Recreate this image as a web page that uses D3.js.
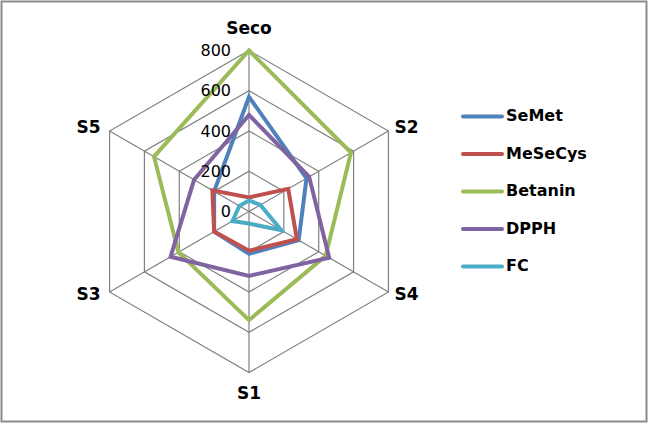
<!DOCTYPE html>
<html>
<head>
<meta charset="utf-8">
<script src="https://cdn.jsdelivr.net/npm/d3@7"></script>
<style>
  body { margin: 0; background: #fff; }
  svg { display: block; }
</style>
</head>
<body>
<div id="chart"></div>
<script>
'use strict';

var axisNames = ["Seco", "S2", "S4", "S1", "S3", "S5"];
var tickValues = [0, 200, 400, 600, 800];

var seriesNames = ["SeMet", "MeSeCys", "Betanin", "DPPH", "FC"];
var seMet = [570, 330, 285, 210, 200, 200];
var meSeCys = [70, 225, 275, 195, 200, 210];
var betanin = [800, 585, 440, 540, 405, 545];
var dpph = [480, 345, 460, 320, 450, 315];
var fc = [55, 65, 185, 60, 95, 55];

var width = 648, height = 423;
var cx = 249, cy = 211.5, radius = 161;

var colorScale = d3.scaleOrdinal()
  .domain(seriesNames)
  .range(["#4f81bd", "#c0504d", "#9bbb59", "#8064a2", "#4bacc6"]);

var rScale = d3.scaleLinear().domain([0, 800]).range([0, radius]);
var angleScale = d3.scalePoint().domain(axisNames).range([0, 2 * Math.PI * 5 / 6]);

var series = [seMet, meSeCys, betanin, dpph, fc].map(function(values, i) {
  return { name: seriesNames[i], values: values };
});

var svg = d3.select("#chart").append("svg")
  .attr("width", width)
  .attr("height", height);

svg.append("rect")
  .attr("x", 1.5).attr("y", 1.5)
  .attr("width", width - 3).attr("height", height - 3)
  .attr("fill", "#fff")
  .attr("stroke", "#8c8c8c")
  .attr("stroke-width", 2);

var g = svg.append("g").attr("transform", "translate(" + cx + "," + cy + ")");

function point(name, v) {
  var a = angleScale(name);
  return [Math.sin(a) * rScale(v), -Math.cos(a) * rScale(v)];
}

// grid rings
var ring = d3.line().curve(d3.curveLinearClosed);
g.selectAll(".ring")
  .data(tickValues.slice(1))
  .enter().append("path")
  .attr("class", "ring")
  .attr("d", function(t) {
    return ring(axisNames.map(function(n) { return point(n, t); }));
  })
  .attr("fill", "none")
  .attr("stroke", "#808080")
  .attr("stroke-width", 1.2);

// spokes
g.selectAll(".spoke")
  .data(axisNames)
  .enter().append("line")
  .attr("class", "spoke")
  .attr("x1", 0).attr("y1", 0)
  .attr("x2", function(n) { return point(n, 800)[0]; })
  .attr("y2", function(n) { return point(n, 800)[1]; })
  .attr("stroke", "#808080")
  .attr("stroke-width", 1.2);

// series
var radarLine = d3.lineRadial()
  .angle(function(d, i) { return angleScale(axisNames[i]); })
  .radius(function(d) { return rScale(d); })
  .curve(d3.curveLinearClosed);

g.selectAll(".series")
  .data(series)
  .enter().append("path")
  .attr("class", "series")
  .attr("d", function(d) { return radarLine(d.values); })
  .attr("fill", "none")
  .attr("stroke", function(d) { return colorScale(d.name); })
  .attr("stroke-width", 4)
  .attr("stroke-linejoin", "miter");

// tick labels
g.selectAll(".tick")
  .data(tickValues)
  .enter().append("text")
  .attr("class", "tick")
  .attr("x", -18)
  .attr("y", function(t) { return -rScale(t) + 1; })
  .attr("text-anchor", "end")
  .attr("dominant-baseline", "middle")
  .style("font-family", "DejaVu Sans")
  .style("font-size", "16px")
  .style("fill", "#000")
  .text(function(t) { return t; });

// axis labels
g.selectAll(".axisLabel")
  .data(axisNames)
  .enter().append("text")
  .attr("class", "axisLabel")
  .attr("x", function(n) {
    var p = point(n, 800);
    if (Math.abs(p[0]) < 1) return p[0];
    return p[0] > 0 ? p[0] + 6 : p[0] - 9;
  })
  .attr("y", function(n) {
    var p = point(n, 800);
    if (Math.abs(p[0]) < 1) return p[1] < 0 ? p[1] - 22 : p[1] + 21;
    return p[1] < 0 ? p[1] - 3 : p[1] + 3;
  })
  .attr("text-anchor", function(n) {
    var p = point(n, 800);
    if (Math.abs(p[0]) < 1) return "middle";
    return p[0] > 0 ? "start" : "end";
  })
  .attr("dominant-baseline", "middle")
  .style("font-family", "DejaVu Sans")
  .style("font-weight", "bold")
  .style("font-size", "17px")
  .style("fill", "#000")
  .text(function(n) { return n; });

// legend
var legend = svg.append("g").attr("transform", "translate(462,116.5)");
var item = legend.selectAll(".legendItem")
  .data(seriesNames)
  .enter().append("g")
  .attr("class", "legendItem")
  .attr("transform", function(d, i) { return "translate(0," + (i * 37.5) + ")"; });

item.append("line")
  .attr("x1", 1).attr("x2", 40)
  .attr("y1", 0).attr("y2", 0)
  .attr("stroke", function(d) { return colorScale(d); })
  .attr("stroke-width", 4)
  .attr("stroke-linecap", "round");

item.append("text")
  .attr("x", 44)
  .attr("y", 0)
  .attr("dominant-baseline", "middle")
  .style("font-family", "DejaVu Sans")
  .style("font-weight", "bold")
  .style("font-size", "16px")
  .style("fill", "#000")
  .text(function(d) { return d; });
</script>
</body>
</html>
